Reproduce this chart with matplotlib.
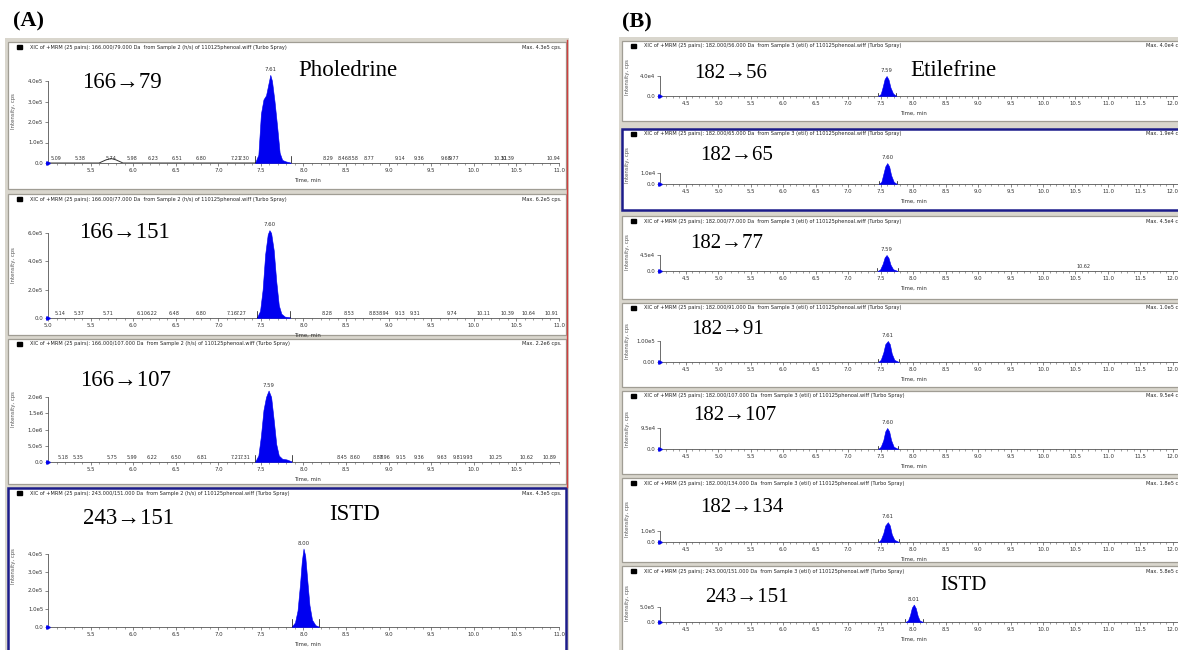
import matplotlib
matplotlib.use('Agg')
import matplotlib.pyplot as plt
from matplotlib.patches import Rectangle
from matplotlib.ticker import MultipleLocator

W, H = 1178, 650

# ---------------- dados ----------------
# (A) Pholedrine, amostra 2
aTitles = [
    'XIC of +MRM (25 pairs): 166.000/79.000 Da  from Sample 2 (h/s) of 110125phenoal.wiff (Turbo Spray)',
    'XIC of +MRM (25 pairs): 166.000/77.000 Da  from Sample 2 (h/s) of 110125phenoal.wiff (Turbo Spray)',
    'XIC of +MRM (25 pairs): 166.000/107.000 Da  from Sample 2 (h/s) of 110125phenoal.wiff (Turbo Spray)',
    'XIC of +MRM (25 pairs): 243.000/151.000 Da  from Sample 2 (h/s) of 110125phenoal.wiff (Turbo Spray)',
]
aTransitions = ['166→79', '166→151', '166→107', '243→151']
aMax = ['Max. 4.3e5 cps.', 'Max. 6.2e5 cps.', 'Max. 2.2e6 cps.', 'Max. 4.3e5 cps.']
aYTicks = [[0, 1e5, 2e5, 3e5, 4e5], [0, 2e5, 4e5, 6e5],
           [0, 5e5, 1e6, 1.5e6, 2e6], [0, 1e5, 2e5, 3e5, 4e5]]
aYTickLabels = [['0.0', '1.0e5', '2.0e5', '3.0e5', '4.0e5'],
                ['0.0', '2.0e5', '4.0e5', '6.0e5'],
                ['0.0', '5.0e5', '1.0e6', '1.5e6', '2.0e6'],
                ['0.0', '1.0e5', '2.0e5', '3.0e5', '4.0e5']]
aXTicks = [[5.5, 6.0, 6.5, 7.0, 7.5, 8.0, 8.5, 9.0, 9.5, 10.0, 10.5, 11.0],
           [5.0, 5.5, 6.0, 6.5, 7.0, 7.5, 8.0, 8.5, 9.0, 9.5, 10.0, 10.5, 11.0],
           [5.5, 6.0, 6.5, 7.0, 7.5, 8.0, 8.5, 9.0, 9.5, 10.0, 10.5],
           [5.5, 6.0, 6.5, 7.0, 7.5, 8.0, 8.5, 9.0, 9.5, 10.0, 10.5, 11.0]]
aPeakLabels = ['7.61', '7.60', '7.59', '8.00']

a1Time = [7.43, 7.47, 7.50, 7.53, 7.56, 7.59, 7.61, 7.63, 7.66, 7.69, 7.72, 7.75, 7.79, 7.85]
a1Intensity = [0, 0.4e5, 2.4e5, 3.1e5, 3.3e5, 3.9e5, 4.3e5, 4.0e5, 3.0e5, 1.8e5, 0.5e5, 0.15e5, 0.08e5, 0.02e5]
a2Time = [7.45, 7.49, 7.52, 7.55, 7.58, 7.60, 7.62, 7.65, 7.68, 7.71, 7.74, 7.78, 7.84]
a2Intensity = [0, 0.5e5, 2.0e5, 4.5e5, 5.9e5, 6.2e5, 6.0e5, 4.8e5, 2.6e5, 0.9e5, 0.3e5, 0.1e5, 0.05e5]
a3Time = [7.43, 7.47, 7.50, 7.53, 7.56, 7.59, 7.62, 7.65, 7.68, 7.71, 7.75, 7.80, 7.86]
a3Intensity = [0, 0.2e6, 0.8e6, 1.6e6, 2.0e6, 2.2e6, 2.0e6, 1.3e6, 0.55e6, 0.2e6, 0.1e6, 0.08e6, 0.02e6]
a4Time = [7.86, 7.90, 7.93, 7.96, 7.98, 8.00, 8.02, 8.04, 8.07, 8.10, 8.14, 8.18]
a4Intensity = [0, 0.25e5, 0.9e5, 2.4e5, 3.6e5, 4.3e5, 3.9e5, 2.8e5, 1.2e5, 0.4e5, 0.1e5, 0.02e5]

# pequenos picos rotulados na linha de base
a1Minor = [5.09, 5.38, 5.74, 5.98, 6.23, 6.51, 6.80, 7.21, 7.30, 8.29, 8.46, 8.58, 8.77,
           9.14, 9.36, 9.68, 9.77, 10.31, 10.39, 10.94]
a2Minor = [5.14, 5.37, 5.71, 6.10, 6.22, 6.48, 6.80, 7.16, 7.27, 8.28, 8.53, 8.83, 8.94,
           9.13, 9.31, 9.74, 10.11, 10.39, 10.64, 10.91]
a3Minor = [5.18, 5.35, 5.75, 5.99, 6.22, 6.50, 6.81, 7.21, 7.31, 8.45, 8.60, 8.87, 8.96,
           9.15, 9.36, 9.63, 9.81, 9.93, 10.25, 10.62, 10.89]
a4Minor = []

# linha de base (tempo, intensidade)
a1BaseTime = [5.0, 5.60, 5.68, 5.74, 5.80, 5.88, 7.43]
a1BaseIntensity = [0, 0, 0.15e5, 0.22e5, 0.15e5, 0, 0]

# (B) Etilefrine, amostra 3
bTitles = [
    'XIC of +MRM (25 pairs): 182.000/56.000 Da  from Sample 3 (etil) of 110125phenoal.wiff (Turbo Spray)',
    'XIC of +MRM (25 pairs): 182.000/65.000 Da  from Sample 3 (etil) of 110125phenoal.wiff (Turbo Spray)',
    'XIC of +MRM (25 pairs): 182.000/77.000 Da  from Sample 3 (etil) of 110125phenoal.wiff (Turbo Spray)',
    'XIC of +MRM (25 pairs): 182.000/91.000 Da  from Sample 3 (etil) of 110125phenoal.wiff (Turbo Spray)',
    'XIC of +MRM (25 pairs): 182.000/107.000 Da  from Sample 3 (etil) of 110125phenoal.wiff (Turbo Spray)',
    'XIC of +MRM (25 pairs): 182.000/134.000 Da  from Sample 3 (etil) of 110125phenoal.wiff (Turbo Spray)',
    'XIC of +MRM (25 pairs): 243.000/151.000 Da  from Sample 3 (etil) of 110125phenoal.wiff (Turbo Spray)',
]
bTransitions = ['182→56', '182→65', '182→77', '182→91', '182→107', '182→134', '243→151']
bMax = ['Max. 4.0e4 cps.', 'Max. 1.9e4 cps.', 'Max. 4.5e4 cps.', 'Max. 1.0e5 cps.',
        'Max. 9.5e4 cps.', 'Max. 1.8e5 cps.', 'Max. 5.8e5 cps.']
bYTicks = [[0, 4.0e4], [0, 1.0e4], [0, 4.5e4], [0, 1.0e5], [0, 9.5e4], [0, 1.0e5], [0, 5.0e5]]
bYTickLabels = [['0.0', '4.0e4'], ['0.0', '1.0e4'], ['0.0', '4.5e4'], ['0.00', '1.00e5'],
                ['0.0', '9.5e4'], ['0.0', '1.0e5'], ['0.0', '5.0e5']]
bXTicks = [4.5, 5.0, 5.5, 6.0, 6.5, 7.0, 7.5, 8.0, 8.5, 9.0, 9.5, 10.0, 10.5, 11.0, 11.5, 12.0]
bPeakLabels = ['7.59', '7.60', '7.59', '7.61', '7.60', '7.61', '8.01']

b1Time = [7.46, 7.50, 7.53, 7.56, 7.59, 7.62, 7.65, 7.69, 7.74]
b1Intensity = [0, 0.4e4, 1.8e4, 3.4e4, 4.0e4, 3.3e4, 1.7e4, 0.5e4, 0]
b2Time = [7.47, 7.51, 7.54, 7.57, 7.60, 7.63, 7.66, 7.70, 7.75]
b2Intensity = [0, 0.2e4, 0.9e4, 1.6e4, 1.9e4, 1.6e4, 0.8e4, 0.2e4, 0]
b3Time = [7.45, 7.49, 7.53, 7.56, 7.59, 7.62, 7.65, 7.69, 7.76]
b3Intensity = [0, 0.4e4, 2.0e4, 3.8e4, 4.5e4, 3.7e4, 1.8e4, 0.5e4, 0]
b4Time = [7.46, 7.50, 7.54, 7.57, 7.61, 7.64, 7.67, 7.71, 7.78]
b4Intensity = [0, 0.1e5, 0.45e5, 0.85e5, 1.0e5, 0.85e5, 0.4e5, 0.1e5, 0]
b5Time = [7.46, 7.50, 7.54, 7.57, 7.60, 7.63, 7.66, 7.70, 7.77]
b5Intensity = [0, 0.1e5, 0.4e5, 0.8e5, 0.95e5, 0.8e5, 0.4e5, 0.1e5, 0]
b6Time = [7.46, 7.50, 7.54, 7.57, 7.61, 7.64, 7.67, 7.71, 7.78]
b6Intensity = [0, 0.2e5, 0.8e5, 1.5e5, 1.8e5, 1.5e5, 0.7e5, 0.2e5, 0]
b7Time = [7.88, 7.92, 7.95, 7.98, 8.01, 8.04, 8.07, 8.10, 8.15]
b7Intensity = [0, 0.5e5, 2.2e5, 4.8e5, 5.8e5, 4.6e5, 2.0e5, 0.5e5, 0]
b3Minor = [10.62]

# ---------------- posicoes em pixels (layout) ----------------
aBoxes = [(8, 42, 566, 189), (8, 194, 566, 335), (8, 339, 566, 484), (8, 488, 566, 652)]
aZeroY = [163, 318, 462, 627]
aTickY = [81, 233, 397, 554]
aLabelPos = [(122, 83), (124, 233), (125, 380), (128, 518)]

bBoxes = [(622, 41, 1190, 121), (622, 129, 1190, 210), (622, 216, 1190, 299),
          (622, 303, 1190, 387), (622, 391, 1190, 474), (622, 478, 1190, 562),
          (622, 566, 1190, 652)]
bZeroY = [96, 184, 271, 362, 449, 542, 622]
bTickY = [76, 173, 255, 341, 428, 531, 607]
bLabelPos = [(731, 73), (737, 156), (727, 243), (728, 330), (735, 416), (742, 508), (747, 598)]

SERIF = ['Liberation Serif', 'DejaVu Serif']
SMALL = 3.9
TINY = 3.5


def px(x0, yTop, x1, yBottom):
    """Converte caixa em pixels para coordenadas da figura"""
    return [x0 / W, 1 - yBottom / H, (x1 - x0) / W, (yBottom - yTop) / H]


def drawPanel(fig, bg, p):
    """Desenha uma janela de cromatograma"""
    x0, y0, x1, y1 = p['box']
    edge = '#1c1c8a' if p['selected'] else '#a09d94'
    bg.add_patch(Rectangle((x0, y0), x1 - x0, y1 - y0, facecolor='white',
                           edgecolor=edge, lw=1.8 if p['selected'] else 0.9))
    bg.add_patch(Rectangle((x0 + 9, y0 + 3), 5, 4, color='black'))
    bg.text(x0 + 22, y0 + 5, p['title'], fontsize=3.6, va='center', color='#222222')
    bg.text(x1 - 4, y0 + 5, p['max'], fontsize=3.6, va='center', ha='right', color='#222222')

    axTop = y0 + 18
    ax = fig.add_axes(px(p['axX0'], axTop, p['axX1'], p['zeroY']))
    ax.set_facecolor('none')
    ymax = p['yticks'][-1] * (p['zeroY'] - axTop) / (p['zeroY'] - p['tickY'])
    ax.set_xlim(*p['xlim'])
    ax.set_ylim(0, ymax)

    for s in ['top', 'right']:
        ax.spines[s].set_visible(False)
    for s in ['left', 'bottom']:
        ax.spines[s].set_linewidth(0.6)
        ax.spines[s].set_color('#555555')
    ax.spines['left'].set_bounds(0, p['yticks'][-1])

    ax.set_yticks(p['yticks'])
    ax.set_yticklabels(p['yticklabels'])
    ax.set_xticks(p['xticks'])
    ax.set_xticklabels([f'{v:.1f}' for v in p['xticks']])
    ax.xaxis.set_minor_locator(MultipleLocator(0.1))
    ax.tick_params(axis='both', which='major', labelsize=SMALL, length=2.2, width=0.5,
                   color='#555555', labelcolor='#333333', pad=1.2)
    ax.tick_params(axis='x', which='minor', length=1.2, width=0.4, color='#555555')

    # linha de base
    ax.plot(p['baseTime'], p['baseIntensity'], color='#333333', lw=0.7, zorder=2)
    ax.plot([p['time'][-1], p['xlim'][1]], [0, 0], color='#333333', lw=0.7, zorder=2)
    # pico principal
    ax.fill_between(p['time'], p['intensity'], 0, color='#0000f0', lw=0.4, zorder=3)
    for t in (p['time'][0], p['time'][-1]):
        ax.plot([t, t], [0, ymax * 0.07], color='black', lw=0.5, zorder=4)
    ax.plot(p['xlim'][0], 0, marker='>', ms=2.5, color='#0000f0', clip_on=False, zorder=5)

    iMax = max(range(len(p['intensity'])), key=lambda i: p['intensity'][i])
    ax.annotate(p['peakLabel'], xy=(p['time'][iMax], p['intensity'][iMax]), xytext=(0, 2),
                textcoords='offset points', ha='center', va='bottom', fontsize=SMALL,
                color='#333333', annotation_clip=False)
    for t in p['minor']:
        ax.annotate(f'{t:.2f}', xy=(t, 0), xytext=(0, 1.5), textcoords='offset points',
                    ha='center', va='bottom', fontsize=TINY, color='#333333')

    ax.annotate('Time, min', xy=(p['timeLabelX'], 0), xytext=(0, -10.5),
                textcoords='offset points', ha='center', va='top', fontsize=SMALL,
                color='#333333', annotation_clip=False)
    bg.text(x0 + 6, (axTop + p['zeroY']) / 2, 'Intensity, cps', rotation=90,
            fontsize=SMALL, ha='center', va='center', color='#555555')

    lx, ly = p['labelPos']
    bg.text(lx, ly, p['transition'], fontsize=p['labelSize'], family=SERIF,
            ha='center', va='center')
    return ax


def main():
    fig = plt.figure(figsize=(W / 100, H / 100), dpi=100)
    bg = fig.add_axes([0, 0, 1, 1])
    bg.set_xlim(0, W)
    bg.set_ylim(H, 0)
    bg.axis('off')

    # fundo cinza das janelas
    bg.add_patch(Rectangle((5, 38), 564, 620, facecolor='#d9d6cd', edgecolor='none'))
    bg.add_patch(Rectangle((619, 37), 580, 620, facecolor='#d9d6cd', edgecolor='none'))

    aData = [(a1Time, a1Intensity, a1BaseTime, a1BaseIntensity),
             (a2Time, a2Intensity, [5.0, a2Time[0]], [0, 0]),
             (a3Time, a3Intensity, [5.0, a3Time[0]], [0, 0]),
             (a4Time, a4Intensity, [5.0, a4Time[0]], [0, 0])]
    aMinors = [a1Minor, a2Minor, a3Minor, a4Minor]
    for i in range(4):
        t, y, bt, by = aData[i]
        drawPanel(fig, bg, {
            'box': aBoxes[i], 'selected': i == 3, 'title': aTitles[i], 'max': aMax[i],
            'axX0': 48, 'axX1': 559, 'xlim': (5.0, 11.0), 'zeroY': aZeroY[i], 'tickY': aTickY[i],
            'yticks': aYTicks[i], 'yticklabels': aYTickLabels[i], 'xticks': aXTicks[i],
            'time': t, 'intensity': y, 'baseTime': bt, 'baseIntensity': by,
            'peakLabel': aPeakLabels[i], 'minor': aMinors[i], 'timeLabelX': 8.05,
            'transition': aTransitions[i], 'labelPos': aLabelPos[i], 'labelSize': 16.5,
        })
    # borda vermelha da coluna (A)
    bg.plot([567, 567], [40, 487], color='#d04040', lw=1.0)

    bData = [(b1Time, b1Intensity), (b2Time, b2Intensity), (b3Time, b3Intensity),
             (b4Time, b4Intensity), (b5Time, b5Intensity), (b6Time, b6Intensity),
             (b7Time, b7Intensity)]
    for i in range(7):
        t, y = bData[i]
        drawPanel(fig, bg, {
            'box': bBoxes[i], 'selected': i == 1, 'title': bTitles[i], 'max': bMax[i],
            'axX0': 660, 'axX1': 1230, 'xlim': (4.10, 12.88), 'zeroY': bZeroY[i], 'tickY': bTickY[i],
            'yticks': bYTicks[i], 'yticklabels': bYTickLabels[i], 'xticks': bXTicks,
            'time': t, 'intensity': y, 'baseTime': [4.10, t[0]], 'baseIntensity': [0, 0],
            'peakLabel': bPeakLabels[i], 'minor': b3Minor if i == 2 else [], 'timeLabelX': 8.0,
            'transition': bTransitions[i], 'labelPos': bLabelPos[i], 'labelSize': 15,
        })

    bg.text(953, 70, 'Etilefrine', fontsize=16.5, family=SERIF, ha='center', va='center')
    bg.text(348, 70, 'Pholedrine', fontsize=16.5, family=SERIF, ha='center', va='center')
    bg.text(355, 515, 'ISTD', fontsize=16.5, family=SERIF, ha='center', va='center')
    bg.text(963, 585, 'ISTD', fontsize=15, family=SERIF, ha='center', va='center')

    bg.text(28, 21, '(A)', fontsize=16, family=SERIF, weight='bold', ha='center', va='center')
    bg.text(637, 22, '(B)', fontsize=16, family=SERIF, weight='bold', ha='center', va='center')

    fig.savefig('out.png', dpi=100)


if __name__ == '__main__':
    main()
